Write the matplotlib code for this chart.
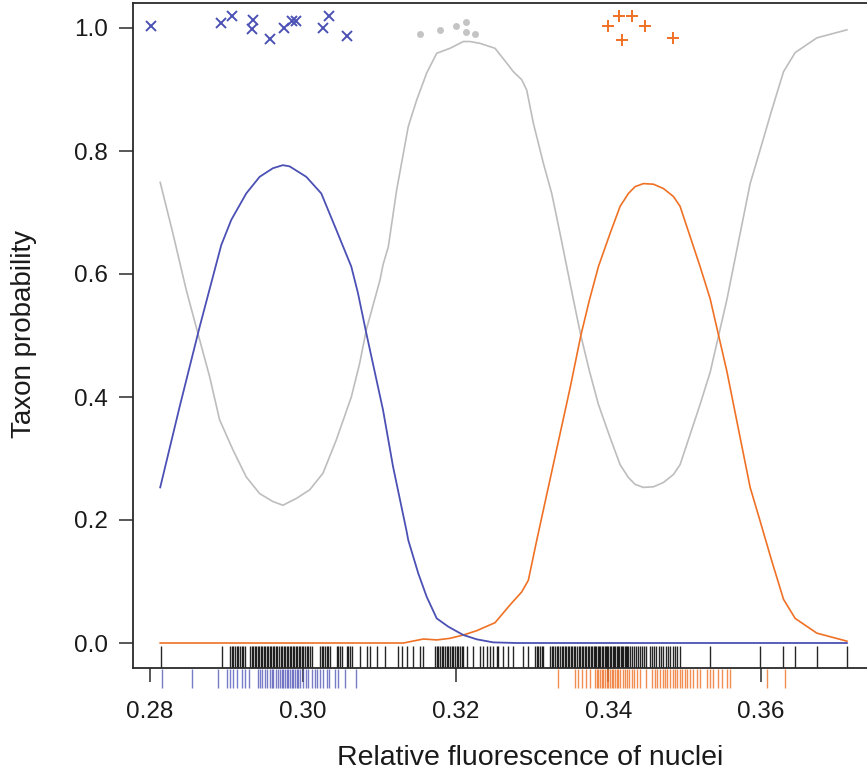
import matplotlib
matplotlib.use("Agg")
import matplotlib.pyplot as plt

plt.rcParams['font.family'] = ['Liberation Sans', 'DejaVu Sans']

# ── data ────────────────────────────────────────────────────
blue_x = [0.28135, 0.28389, 0.28651, 0.28934, 0.29065, 0.29261, 0.29436, 0.29610,
          0.29741, 0.29829, 0.30047, 0.30243, 0.30439, 0.30636, 0.30723, 0.30832,
          0.31051, 0.31182, 0.31356, 0.31382, 0.31513, 0.31623, 0.31754, 0.31906,
          0.32102, 0.32277, 0.32495, 0.32800, 0.37122]
blue_y = [0.253, 0.384, 0.514, 0.647, 0.688, 0.731, 0.758, 0.772,
          0.777, 0.775, 0.758, 0.731, 0.672, 0.612, 0.569, 0.504,
          0.379, 0.287, 0.184, 0.167, 0.113, 0.075, 0.040, 0.0265,
          0.013, 0.006, 0.001, 0.0, 0.0]

gray_x = [0.28135, 0.28301, 0.28476, 0.28651, 0.28782, 0.28912, 0.29087, 0.29261,
          0.29436, 0.29610, 0.29741, 0.29916, 0.30091, 0.30265, 0.30439, 0.30636,
          0.30746, 0.30832, 0.31011, 0.31051, 0.31120, 0.31230, 0.31317, 0.31382,
          0.31492, 0.31623, 0.31754, 0.31928, 0.32102, 0.32190, 0.32321, 0.32517,
          0.32670, 0.32757, 0.32866, 0.32932, 0.33019, 0.33150, 0.33259, 0.33368,
          0.33543, 0.33640, 0.33753, 0.33870, 0.34023, 0.34154, 0.34263, 0.34350,
          0.34459, 0.34590, 0.34721, 0.34852, 0.34939, 0.35070, 0.35201, 0.35332,
          0.35551, 0.35725, 0.35856, 0.35987, 0.36140, 0.36293, 0.36445, 0.36729,
          0.37122]
gray_y = [0.749, 0.666, 0.574, 0.493, 0.433, 0.363, 0.314, 0.270,
          0.243, 0.230, 0.224, 0.235, 0.249, 0.276, 0.330, 0.400,
          0.455, 0.509, 0.590, 0.615, 0.644, 0.737, 0.796, 0.840,
          0.883, 0.927, 0.959, 0.967, 0.978, 0.978, 0.975, 0.967,
          0.943, 0.929, 0.916, 0.899, 0.845, 0.780, 0.731, 0.666,
          0.558, 0.500, 0.442, 0.388, 0.334, 0.290, 0.269, 0.258,
          0.253, 0.254, 0.261, 0.274, 0.290, 0.339, 0.388, 0.440,
          0.558, 0.666, 0.747, 0.802, 0.867, 0.929, 0.960, 0.984,
          0.997]

orange_x = [0.28135, 0.31320, 0.31579, 0.31754, 0.31928, 0.32102, 0.32277, 0.32517,
            0.32714, 0.32866, 0.32953, 0.33063, 0.33200, 0.33350, 0.33500, 0.33640,
            0.33753, 0.33870, 0.34023, 0.34154, 0.34263, 0.34350, 0.34459, 0.34590,
            0.34721, 0.34852, 0.34939, 0.35070, 0.35201, 0.35332, 0.35551, 0.35725,
            0.35856, 0.35987, 0.36140, 0.36293, 0.36445, 0.36729, 0.37122]
orange_y = [0.0, 0.0, 0.0065, 0.005, 0.0076, 0.013, 0.020, 0.033,
            0.062, 0.083, 0.102, 0.167, 0.245, 0.330, 0.415, 0.500,
            0.558, 0.612, 0.666, 0.710, 0.731, 0.742, 0.747, 0.746,
            0.739, 0.726, 0.710, 0.661, 0.612, 0.560, 0.442, 0.334,
            0.253, 0.198, 0.133, 0.071, 0.040, 0.016, 0.003]

# reference samples plotted near the top
ref1_x = [0.28013, 0.28926, 0.29070, 0.29353, 0.29340, 0.29571, 0.29754, 0.29855,
          0.29907, 0.30269, 0.30348, 0.30584]
ref1_y = [1.003, 1.008, 1.020, 1.013, 0.998, 0.982, 1.000, 1.012,
          1.012, 1.000, 1.020, 0.987]
ref2_x = [0.31535, 0.31797, 0.32002, 0.32133, 0.32133, 0.32259]
ref2_y = [0.991, 0.997, 1.003, 1.010, 0.993, 0.991]
ref3_x = [0.34001, 0.34141, 0.34315, 0.34482, 0.34185, 0.34844]
ref3_y = [1.004, 1.020, 1.019, 1.004, 0.980, 0.983]

# rugs
rug_all = [0.28140, 0.28938,
           0.29047, 0.29069, 0.29091, 0.29113, 0.29135, 0.29156, 0.29178, 0.29200,
           0.29222, 0.29244,
           0.29309, 0.29330, 0.29350, 0.29370, 0.29390, 0.29410, 0.29430, 0.29450,
           0.29470, 0.29490, 0.29510, 0.29530, 0.29550, 0.29570, 0.29590, 0.29610,
           0.29630, 0.29650, 0.29670, 0.29690, 0.29710, 0.29730, 0.29750, 0.29770,
           0.29790, 0.29810, 0.29830, 0.29850, 0.29870, 0.29890, 0.29910, 0.29930,
           0.29950, 0.29970, 0.29990, 0.30010, 0.30030, 0.30050, 0.30070, 0.30090,
           0.30117,
           0.30226, 0.30248, 0.30270, 0.30291, 0.30313, 0.30335, 0.30357,
           0.30444, 0.30466, 0.30488, 0.30510,
           0.30575, 0.30597, 0.30619, 0.30641,
           0.30750, 0.30837, 0.30881, 0.30968, 0.31077, 0.31251, 0.31296, 0.31361,
           0.31448, 0.31535, 0.31579,
           0.31732, 0.31754, 0.31776, 0.31798, 0.31820, 0.31841, 0.31863, 0.31885,
           0.31907, 0.31929, 0.31950, 0.31972, 0.31994, 0.32016, 0.32038, 0.32060,
           0.32082, 0.32102,
           0.32147, 0.32233, 0.32321, 0.32364, 0.32408, 0.32451, 0.32495, 0.32539,
           0.32560, 0.32626, 0.32691, 0.32757, 0.32888, 0.32953,
           0.33041, 0.33063, 0.33085, 0.33106, 0.33128, 0.33150,
           0.33237, 0.33259, 0.33281, 0.33303, 0.33325, 0.33346,
           0.33368, 0.33390, 0.33410, 0.33430, 0.33450, 0.33470, 0.33490, 0.33510,
           0.33530, 0.33550, 0.33570, 0.33590, 0.33610, 0.33630, 0.33650, 0.33670,
           0.33690, 0.33710, 0.33730, 0.33750, 0.33770, 0.33790,
           0.33810, 0.33827, 0.33845, 0.33862, 0.33880, 0.33897, 0.33915, 0.33932,
           0.33950, 0.33967, 0.33985, 0.34002, 0.34020, 0.34037, 0.34055, 0.34072,
           0.34090, 0.34107, 0.34125, 0.34142, 0.34160, 0.34177, 0.34195, 0.34212,
           0.34230, 0.34247,
           0.34263, 0.34285, 0.34310, 0.34337, 0.34360, 0.34390, 0.34416, 0.34440,
           0.34470, 0.34495,
           0.34550, 0.34575, 0.34600, 0.34630, 0.34660, 0.34690, 0.34720, 0.34750,
           0.34780, 0.34810, 0.34840, 0.34870, 0.34895, 0.34940,
           0.35332, 0.35987, 0.36292, 0.36445, 0.36729, 0.37122]

rug1 = [0.28161, 0.28554, 0.28886, 0.29004, 0.29047, 0.29091, 0.29135, 0.29200,
        0.29244, 0.29296, 0.29410, 0.29440, 0.29470, 0.29506, 0.29536, 0.29571,
        0.29593, 0.29615, 0.29646, 0.29672, 0.29702, 0.29724, 0.29746, 0.29768,
        0.29790, 0.29811, 0.29833, 0.29855, 0.29877, 0.29899, 0.29921, 0.29942,
        0.29964, 0.30007, 0.30043, 0.30073, 0.30117, 0.30160, 0.30191, 0.30226,
        0.30269, 0.30313, 0.30344, 0.30422, 0.30466, 0.30553, 0.30693]

rug3 = [0.33346, 0.33565, 0.33608, 0.33652, 0.33709, 0.33761, 0.33827, 0.33849,
        0.33870, 0.33892, 0.33914, 0.33935, 0.33957, 0.33979, 0.34001, 0.34023,
        0.34045, 0.34066, 0.34088, 0.34110, 0.34132, 0.34154, 0.34189, 0.34219,
        0.34241, 0.34276, 0.34306, 0.34337, 0.34372, 0.34416, 0.34490, 0.34569,
        0.34612, 0.34642, 0.34678, 0.34713, 0.34743, 0.34773, 0.34809, 0.34844,
        0.34874, 0.34904, 0.34940, 0.34970, 0.35005, 0.35035, 0.35070, 0.35114,
        0.35158, 0.35201, 0.35289, 0.35332, 0.35376, 0.35441, 0.35485, 0.35551,
        0.35594, 0.36082, 0.36314]

x_ticks = [0.28, 0.30, 0.32, 0.34, 0.36]
y_ticks = [0.0, 0.2, 0.4, 0.6, 0.8, 1.0]

BLUE = '#4b50b4'
ORANGE = '#ef7125'
GRAY = '#bdbdbd'
INK = '#2a2a2a'

# ── plot ────────────────────────────────────────────────────
fig = plt.figure(figsize=(8.67, 7.75), dpi=100)
W, H = 867, 775
ax = fig.add_axes([132.7 / W, (H - 667.6) / H, (875 - 132.7) / W, 664.2 / H])
ax.set_xlim(0.27775, 0.3749)
ax.set_ylim(-0.04, 1.04)

ax.plot(gray_x, gray_y, color=GRAY, lw=1.2, zorder=3)
ax.plot(orange_x, orange_y, color=ORANGE, lw=1.2, zorder=4)
ax.plot(blue_x, blue_y, color=BLUE, lw=1.3, zorder=5)

ax.plot(ref1_x, ref1_y, 'x', color=BLUE, ms=7, mew=1.4, zorder=6)
ax.plot(ref2_x, ref2_y, 'o', color='#c4c4c4', ms=5, mew=0, zorder=6)
ax.plot(ref3_x, ref3_y, '+', color=ORANGE, ms=9, mew=1.4, zorder=6)

# rug of all nuclei inside the box, reference rugs under the axis
ax.vlines(rug_all, -0.04, -0.005, color='black', lw=1.0, alpha=0.85, zorder=2)
ax.vlines(rug1, -0.0425, -0.0735, color=BLUE, lw=1.0, alpha=0.75, clip_on=False)
ax.vlines(rug3, -0.0425, -0.0735, color=ORANGE, lw=1.0, alpha=0.8, clip_on=False)

ax.set_xticks(x_ticks)
ax.set_xticklabels([f'{v:.2f}' for v in x_ticks])
ax.set_yticks(y_ticks)
ax.set_yticklabels([f'{v:.1f}' for v in y_ticks])
ax.tick_params(axis='x', length=10, width=1.1, pad=14, labelsize=17.5,
               color=INK, labelcolor='#1a1a1a')
ax.tick_params(axis='y', length=10, width=1.1, pad=8, labelsize=17.5,
               color=INK, labelcolor='#1a1a1a')

for side in ['left', 'top', 'bottom']:
    ax.spines[side].set_color(INK)
    ax.spines[side].set_linewidth(1.3)
ax.spines['right'].set_visible(False)

fig.text(530 / W, 1 - 758 / H, 'Relative fluorescence of nuclei',
         ha='center', va='center', fontsize=20.5, color='#1a1a1a')
fig.text(24 / W, 1 - 334 / H, 'Taxon probability', rotation=90,
         ha='center', va='center', fontsize=20, color='#1a1a1a')

plt.savefig('out.png', dpi=100)
